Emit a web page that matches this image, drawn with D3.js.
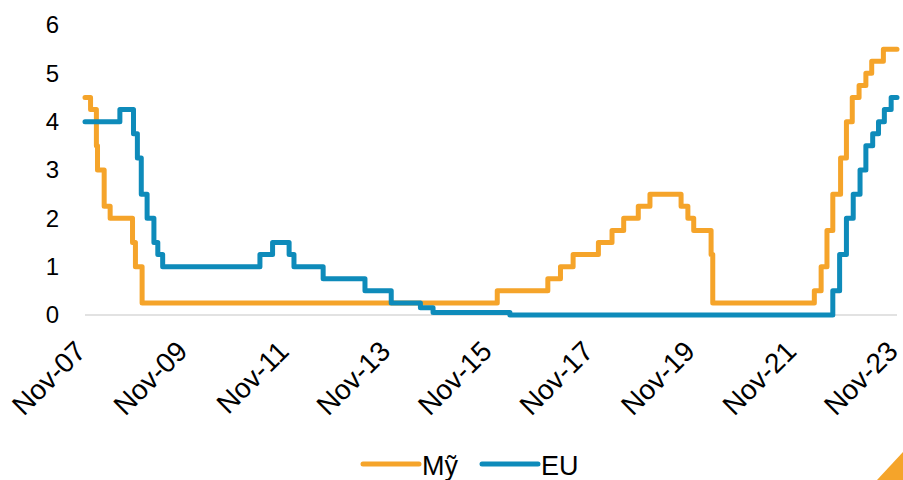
<!DOCTYPE html>
<html>
<head>
<meta charset="utf-8">
<script src="https://cdn.jsdelivr.net/npm/d3@7"></script>
<style>
  body { margin: 0; background: #fff; }
  svg { display: block; font-family: "Liberation Sans", Arial, sans-serif; }
</style>
</head>
<body>
<div id="chart"></div>
<script>
// lãi suất điều hành: Fed (cận trên) và ECB (tái cấp vốn)
var usDates = ["2007-11-01","2007-12-11","2008-01-22","2008-01-30","2008-03-18","2008-04-30","2008-10-08","2008-10-29","2008-12-16",
  "2015-12-16","2016-12-14","2017-03-15","2017-06-14","2017-12-13","2018-03-21","2018-06-13","2018-09-26","2018-12-19",
  "2019-07-31","2019-09-18","2019-10-30","2020-03-03","2020-03-15",
  "2022-03-16","2022-05-04","2022-06-15","2022-07-27","2022-09-21","2022-11-02","2022-12-14",
  "2023-02-01","2023-03-22","2023-05-03","2023-07-26","2023-11-01"];
var usRates = [4.5,4.25,3.5,3.0,2.25,2.0,1.5,1.0,0.25,
  0.5,0.75,1.0,1.25,1.5,1.75,2.0,2.25,2.5,
  2.25,2.0,1.75,1.25,0.25,
  0.5,1.0,1.75,2.5,3.25,4.0,4.5,
  4.75,5.0,5.25,5.5,5.5];

var euDates = ["2007-11-01","2008-07-09","2008-10-15","2008-11-12","2008-12-10","2009-01-21","2009-03-11","2009-04-08","2009-05-13",
  "2011-04-13","2011-07-13","2011-11-09","2011-12-14","2012-07-11","2013-05-08","2013-11-13","2014-06-11","2014-09-10","2016-03-16",
  "2022-07-27","2022-09-14","2022-11-02","2022-12-21","2023-02-08","2023-03-22","2023-05-10","2023-06-21","2023-08-02","2023-09-20","2023-11-01"];
var euRates = [4.0,4.25,3.75,3.25,2.5,2.0,1.5,1.25,1.0,
  1.25,1.5,1.25,1.0,0.75,0.5,0.25,0.15,0.05,0.0,
  0.5,1.25,2.0,2.5,3.0,3.5,3.75,4.0,4.25,4.5,4.5];

var xTicks = ["2007-11-01","2009-11-01","2011-11-01","2013-11-01","2015-11-01","2017-11-01","2019-11-01","2021-11-01","2023-11-01"];
var yTicks = [0,1,2,3,4,5,6];

var seriesNames = ["Mỹ","EU"];
var colors = ["#F5A42A","#0E8BBA"];

var w = 903, h = 480;
var parse = d3.timeParse("%Y-%m-%d");

var series = [
  usDates.map(function(d,i){ return {date: parse(d), value: usRates[i]}; }),
  euDates.map(function(d,i){ return {date: parse(d), value: euRates[i]}; })
];

var svg = d3.select("#chart").append("svg")
  .attr("width", w)
  .attr("height", h);

var x = d3.scaleTime()
  .domain([parse(xTicks[0]), parse(xTicks[xTicks.length-1])])
  .range([85, 897]);
var y = d3.scaleLinear()
  .domain([0, 6])
  .range([315, 25]);

// đường 0
svg.append("line")
  .attr("x1", x.range()[0]).attr("x2", x.range()[1])
  .attr("y1", y(0)).attr("y2", y(0))
  .attr("stroke", "#d9d9d9")
  .attr("stroke-width", 1.5);

// trục y
var yAxis = svg.append("g")
  .attr("transform", "translate(59,0)")
  .call(d3.axisLeft(y).tickValues(yTicks).tickSize(0).tickPadding(0).tickFormat(d3.format("d")));
yAxis.select(".domain").remove();
yAxis.selectAll("text")
  .attr("font-size", 24)
  .attr("font-family", "Liberation Sans, Arial, sans-serif")
  .attr("fill", "#000");

// trục x
var xAxis = svg.append("g")
  .attr("transform", "translate(0," + y(0) + ")")
  .call(d3.axisBottom(x).tickValues(xTicks.map(parse)).tickSize(0).tickFormat(d3.timeFormat("%b-%y")));
xAxis.select(".domain").remove();
xAxis.selectAll("text")
  .attr("font-size", 28)
  .attr("font-family", "Liberation Sans, Arial, sans-serif")
  .attr("fill", "#000")
  .attr("text-anchor", "end")
  .attr("dy", null)
  .attr("y", 0)
  .attr("transform", "translate(2,38) rotate(-45)");

// các đường lãi suất
var line = d3.line()
  .curve(d3.curveStepAfter)
  .x(function(d){ return x(d.date); })
  .y(function(d){ return y(d.value); });

svg.selectAll("path.rate")
  .data(series)
  .enter()
  .append("path")
  .attr("class", "rate")
  .attr("d", line)
  .attr("fill", "none")
  .attr("stroke", function(d,i){ return colors[i]; })
  .attr("stroke-width", 5)
  .attr("stroke-linejoin", "round")
  .attr("stroke-linecap", "round");

// chú thích
var legendX = [363, 482];
var legend = svg.selectAll("g.legend")
  .data(seriesNames)
  .enter()
  .append("g")
  .attr("class", "legend")
  .attr("transform", function(d,i){ return "translate(" + legendX[i] + ",464)"; });
legend.append("line")
  .attr("x1", 0).attr("x2", 56)
  .attr("stroke", function(d,i){ return colors[i]; })
  .attr("stroke-width", 5)
  .attr("stroke-linecap", "round");
legend.append("text")
  .attr("x", 59)
  .attr("y", 11)
  .attr("font-size", 27)
  .attr("fill", "#000")
  .text(function(d){ return d; });

// góc trang trí
svg.append("path")
  .attr("d", "M877,480L903,480L903,452Z")
  .attr("fill", "#F5A42A");
</script>
</body>
</html>
